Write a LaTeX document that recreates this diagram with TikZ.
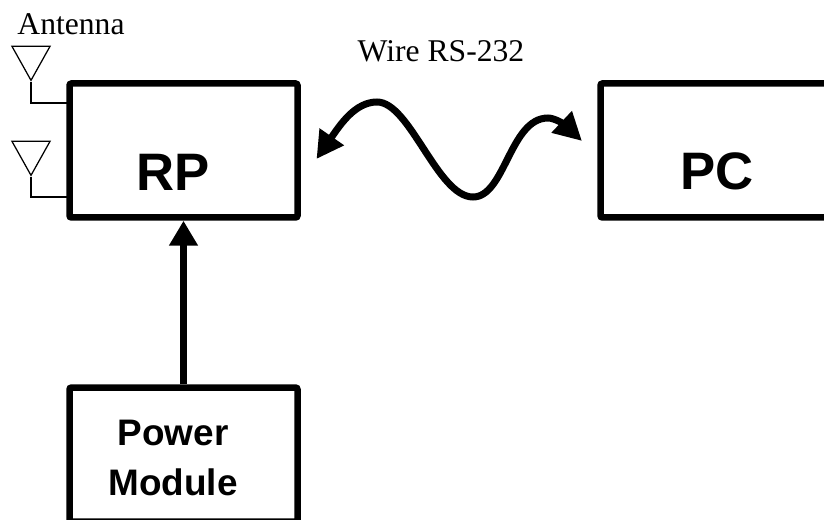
\documentclass[tikz,border=0pt]{standalone}
\usepackage{fontspec}
\setmainfont{Liberation Serif}
\newfontfamily\labelfont{Liberation Sans}
\usetikzlibrary{arrows.meta,shapes.geometric}

\tikzset{
    block/.style={rectangle, draw, line width=0.13cm, rounding,
                  minimum width=4.56cm, minimum height=2.68cm},
    rounding/.style={rounded corners=0.04cm},
    biglabel/.style={font=\labelfont\bfseries\fontsize{30}{34}\selectfont},
    smalllabel/.style={font=\labelfont\bfseries\fontsize{21}{28.5}\selectfont, align=center},
    serifplain/.style={font=\fontsize{18}{21}\selectfont},
    antenna/.style={isosceles triangle, isosceles triangle stretches, draw, anchor=apex,
                    shape border rotate=-90, line width=0.025cm, inner sep=0pt,
                    minimum width=0.76cm, minimum height=0.68cm},
    thinwire/.style={line width=0.025cm},
    thickarrow/.style={line width=0.13cm, -{Triangle[length=0.5cm, width=0.55cm]}},
    wavearrow/.style={line width=0.14cm,
                      {Triangle[length=0.54cm, width=0.56cm]}-{Triangle[length=0.56cm, width=0.56cm]}}
}

\begin{document}
\begin{tikzpicture}
    \useasboundingbox (0,0) rectangle (16.48,-10.4);

    % RP and antennas

    \node (rp) [block] at (3.67,-3.01) {};
    \node (rplabel) [biglabel] at (3.46,-3.44) {RP};
    \node (antennaone) [antenna] at (0.62,-1.64) {};
    \node (antennatwo) [antenna] at (0.62,-3.54) {};
    \node (antennalabel) [serifplain] at (1.42,-0.48) {Antenna};
    \coordinate (portone) at (1.36,-2.06);
    \coordinate (porttwo) at (1.36,-3.94);
    \draw[thinwire] (antennaone.apex) |- (portone);
    \draw[thinwire] (antennatwo.apex) |- (porttwo);

    % PC and serial wire

    \node (pc) [block] at (14.29,-3.01) {};
    \node (pclabel) [biglabel] at (14.34,-3.42) {PC};
    \node (wirelabel) [serifplain] at (8.82,-1.02) {Wire RS-232};
    \coordinate (wireleft) at (6.33,-3.18);
    \coordinate (wireright) at (11.64,-2.82);
    \draw[wavearrow] (wireleft)
        .. controls (6.8,-2.5) and (7.1,-2.04) .. (7.54,-2.04)
        .. controls (8.2,-2.04) and (8.75,-3.94) .. (9.46,-3.94)
        .. controls (10.1,-3.94) and (10.2,-2.36) .. (10.96,-2.36)
        .. controls (11.1,-2.36) and (11.3,-2.5) .. (wireright);

    % Power Module

    \node (powermodule) [block, anchor=north] at (3.67,-7.686) {};
    \node (powerlabel) [smalllabel] at (3.46,-9.16) {Power \\ Module};
    \draw[thickarrow] (powermodule) -- (rp);
\end{tikzpicture}
\end{document}
